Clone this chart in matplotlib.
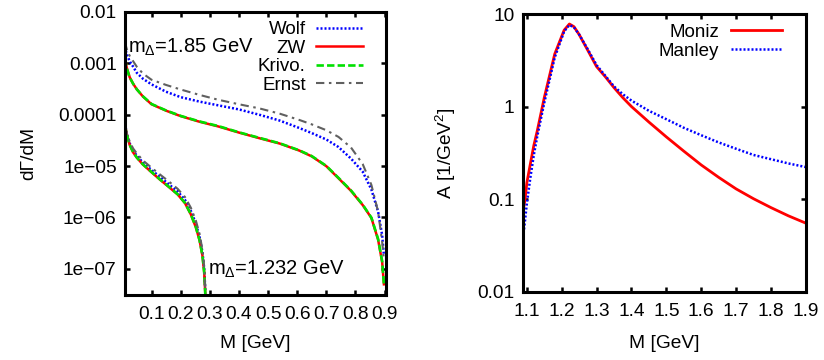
import matplotlib
matplotlib.use('Agg')
import matplotlib.pyplot as plt
from matplotlib.ticker import NullLocator

plt.rcParams['font.family'] = ['Liberation Sans', 'DejaVu Sans']
plt.rcParams['mathtext.fontset'] = 'custom'
plt.rcParams['mathtext.rm'] = 'Liberation Sans'
plt.rcParams['mathtext.it'] = 'Liberation Sans'

FS = 13.8   # tamaño de letra general

# ---------------- panel izquierdo: dGamma/dM, m_Delta = 1.85 GeV ----------------
m_185 = [0.0086, 0.015, 0.025, 0.037, 0.05, 0.071, 0.1, 0.15, 0.2, 0.265, 0.33, 0.4,
         0.47, 0.54, 0.608, 0.65, 0.7, 0.742, 0.785, 0.825, 0.855, 0.878, 0.892, 0.898]
zw_185 = [1.3e-3, 8.2e-4, 5.4e-4, 4.0e-4, 3.1e-4, 2.25e-4, 1.6e-4, 1.2e-4, 9.4e-5, 7.3e-5, 5.9e-5, 4.5e-5,
          3.5e-5, 2.75e-5, 2.0e-5, 1.55e-5, 1.0e-5, 5.8e-6, 3.3e-6, 1.75e-6, 9.8e-7, 3.7e-7, 1.35e-7, 5e-8]
krivo_185 = [1.25e-3, 8.0e-4, 5.3e-4, 4.0e-4, 3.1e-4, 2.27e-4, 1.62e-4, 1.21e-4, 9.5e-5, 7.4e-5, 6.0e-5, 4.55e-5,
             3.55e-5, 2.78e-5, 2.02e-5, 1.57e-5, 1.01e-5, 5.9e-6, 3.35e-6, 1.78e-6, 9.9e-7, 3.8e-7, 1.4e-7, 5e-8]
wolf_185 = [2.1e-3, 1.5e-3, 1.1e-3, 8.6e-4, 6.5e-4, 5.0e-4, 3.9e-4, 2.8e-4, 2.2e-4, 1.8e-4, 1.52e-4, 1.27e-4,
            1.0e-4, 7.7e-5, 5.5e-5, 4.4e-5, 3.3e-5, 2.35e-5, 1.4e-5, 7.8e-6, 3.5e-6, 1.3e-6, 4.5e-7, 1.8e-7]
ernst_185 = [2.6e-3, 1.9e-3, 1.4e-3, 1.1e-3, 8.5e-4, 6.3e-4, 4.8e-4, 3.8e-4, 3.1e-4, 2.43e-4, 1.95e-4, 1.6e-4,
             1.33e-4, 1.05e-4, 7.9e-5, 6.5e-5, 5.0e-5, 3.7e-5, 2.3e-5, 1.1e-5, 4.3e-6, 1.3e-6, 3.3e-7, 1.5e-7]

# ---------------- panel izquierdo: m_Delta = 1.232 GeV ----------------
m_1232 = [0.0086, 0.015, 0.025, 0.037, 0.05, 0.07, 0.1, 0.13, 0.16, 0.19, 0.215, 0.235,
          0.252, 0.265, 0.275, 0.281, 0.285]
zw_1232 = [6.6e-5, 4.2e-5, 2.6e-5, 1.85e-5, 1.45e-5, 1.08e-5, 7.6e-6, 5.4e-6, 3.9e-6, 2.8e-6, 1.9e-6, 1.15e-6,
           6.5e-7, 3.6e-7, 1.8e-7, 8.5e-8, 3e-8]
krivo_1232 = [6.4e-5, 4.1e-5, 2.6e-5, 1.86e-5, 1.46e-5, 1.09e-5, 7.7e-6, 5.45e-6, 3.95e-6, 2.82e-6, 1.92e-6, 1.16e-6,
              6.6e-7, 3.6e-7, 1.8e-7, 8.5e-8, 3e-8]
wolf_1232 = [6.8e-5, 4.4e-5, 2.8e-5, 2.0e-5, 1.58e-5, 1.18e-5, 8.4e-6, 6.1e-6, 4.4e-6, 3.2e-6, 2.2e-6, 1.35e-6,
             7.7e-7, 4.2e-7, 2.1e-7, 1.0e-7, 3.5e-8]
ernst_1232 = [5.8e-5, 4.4e-5, 3.0e-5, 2.2e-5, 1.75e-5, 1.3e-5, 9.3e-6, 6.8e-6, 5.0e-6, 3.6e-6, 2.5e-6, 1.55e-6,
              8.8e-7, 4.8e-7, 2.3e-7, 1.05e-7, 3.5e-8]

left_xticks = [0.1, 0.2, 0.3, 0.4, 0.5, 0.6, 0.7, 0.8, 0.9]
left_xlabels = ['0.1', '0.2', '0.3', '0.4', '0.5', '0.6', '0.7', '0.8', '0.9']
left_yticks = [1e-2, 1e-3, 1e-4, 1e-5, 1e-6, 1e-7]
left_ylabels = ['0.01', '0.001', '0.0001', '1e\u221205', '1e\u221206', '1e\u221207']

# ---------------- panel derecho: funcion espectral ----------------
m_res = [1.088, 1.095, 1.10, 1.11, 1.12, 1.13, 1.15, 1.18, 1.207, 1.222, 1.235, 1.25, 1.274,
         1.30, 1.325, 1.35, 1.375, 1.40, 1.45, 1.50, 1.55, 1.60, 1.65, 1.70, 1.75, 1.80, 1.85, 1.90]
moniz = [0.07, 0.10, 0.15, 0.24, 0.38, 0.55, 1.25, 3.7, 6.7, 7.8, 7.3, 6.0, 4.1,
         2.7, 2.1, 1.6, 1.25, 1.0, 0.68, 0.47, 0.33, 0.234, 0.172, 0.129, 0.101, 0.081, 0.066, 0.055]
manley = [0.035, 0.06, 0.09, 0.17, 0.30, 0.48, 1.1, 3.4, 6.5, 7.6, 7.2, 6.0, 4.2,
          2.8, 2.15, 1.65, 1.36, 1.16, 0.90, 0.73, 0.59, 0.49, 0.41, 0.35, 0.30, 0.27, 0.243, 0.222]

right_xticks = [1.1, 1.2, 1.3, 1.4, 1.5, 1.6, 1.7, 1.8, 1.9]
right_xlabels = ['1.1', '1.2', '1.3', '1.4', '1.5', '1.6', '1.7', '1.8', '1.9']
right_yticks = [10, 1, 0.1, 0.01]
right_ylabels = ['10', '1', '0.1', '0.01']

# estilos tipo gnuplot
st_wolf = dict(color='#0000ff', lw=1.8, ls=(0, (0.8, 0.8)))
st_zw = dict(color='#ff0000', lw=1.8, ls='-')
st_krivo = dict(color='#00e000', lw=1.9, ls=(0, (2.8, 1.2)))
st_ernst = dict(color='#606060', lw=1.5, ls=(0, (4, 2.2, 1.2, 2.2)))

fig = plt.figure(figsize=(8.24, 3.6), dpi=100)
ax1 = fig.add_axes([0.1517, 0.1806, 0.4684 - 0.1517, 0.9667 - 0.1806])
ax2 = fig.add_axes([0.6343, 0.1897, 0.978 - 0.6343, 0.9611 - 0.1897])


def gnuplot_frame(ax):
    for s in ax.spines.values():
        s.set_linewidth(2.2)
    ax.tick_params(which='major', direction='in', length=3.5, width=1.8,
                   top=True, right=True, pad=6, labelsize=FS)
    ax.tick_params(axis='x', pad=8)
    ax.yaxis.set_minor_locator(NullLocator())
    ax.xaxis.set_minor_locator(NullLocator())


# panel izquierdo
ax1.plot(m_185, wolf_185, label='Wolf', **st_wolf)
ax1.plot(m_185, zw_185, label='ZW', **st_zw)
ax1.plot(m_185, krivo_185, label='Krivo.', **st_krivo)
ax1.plot(m_185, ernst_185, label='Ernst', **st_ernst)
ax1.plot(m_1232, wolf_1232, **st_wolf)
ax1.plot(m_1232, zw_1232, **st_zw)
ax1.plot(m_1232, krivo_1232, **st_krivo)
ax1.plot(m_1232, ernst_1232, **st_ernst)
ax1.set_yscale('log')
ax1.set_xlim(0.009, 0.905)
ax1.set_ylim(3.1e-8, 1e-2)
gnuplot_frame(ax1)
ax1.set_yticks(left_yticks, left_ylabels)
ax1.set_xticks(left_xticks, left_xlabels)
ax1.yaxis.set_minor_locator(NullLocator())
ax1.set_xlabel('M [GeV]', fontsize=FS)
ax1.xaxis.set_label_coords(0.5, -0.142)
ax1.set_ylabel('d\u0393/dM', fontsize=FS)
ax1.yaxis.set_label_coords(-0.338, 0.5)
ax1.text(0.012, 0.855, 'm$_{\\Delta}$=1.85 GeV', transform=ax1.transAxes,
         fontsize=14.5, va='baseline', ha='left')
ax1.text(0.319, 0.071, 'm$_{\\Delta}$=1.232 GeV', transform=ax1.transAxes,
         fontsize=14.5, va='baseline', ha='left')
ax1.legend(loc='upper right', bbox_to_anchor=(0.912, 0.968), markerfirst=False,
           frameon=False, fontsize=13.5, handlelength=2.5, handletextpad=0.55,
           labelspacing=0.08, borderaxespad=0.0, borderpad=0.0)

# panel derecho
ax2.plot(m_res, moniz, label='Moniz', color='#ff0000', lw=2.0)
ax2.plot(m_res, manley, label='Manley', color='#0000ff', lw=1.8, ls=(0, (0.8, 0.8)))
ax2.set_yscale('log')
ax2.set_xlim(1.088, 1.9)
ax2.set_ylim(0.01, 10)
gnuplot_frame(ax2)
ax2.set_yticks(right_yticks, right_ylabels)
ax2.set_xticks(right_xticks, right_xlabels)
ax2.yaxis.set_minor_locator(NullLocator())
ax2.set_xlabel('M [GeV]', fontsize=FS)
ax2.xaxis.set_label_coords(0.5, -0.155)
ax2.set_ylabel('A [1/GeV$^2$]', fontsize=FS)
ax2.yaxis.set_label_coords(-0.228, 0.5)
ax2.legend(loc='upper right', bbox_to_anchor=(0.915, 0.965), markerfirst=False,
           frameon=False, fontsize=13.5, handlelength=2.7, handletextpad=0.65,
           labelspacing=0.1, borderaxespad=0.0, borderpad=0.0)

fig.savefig('out.png', dpi=100)
